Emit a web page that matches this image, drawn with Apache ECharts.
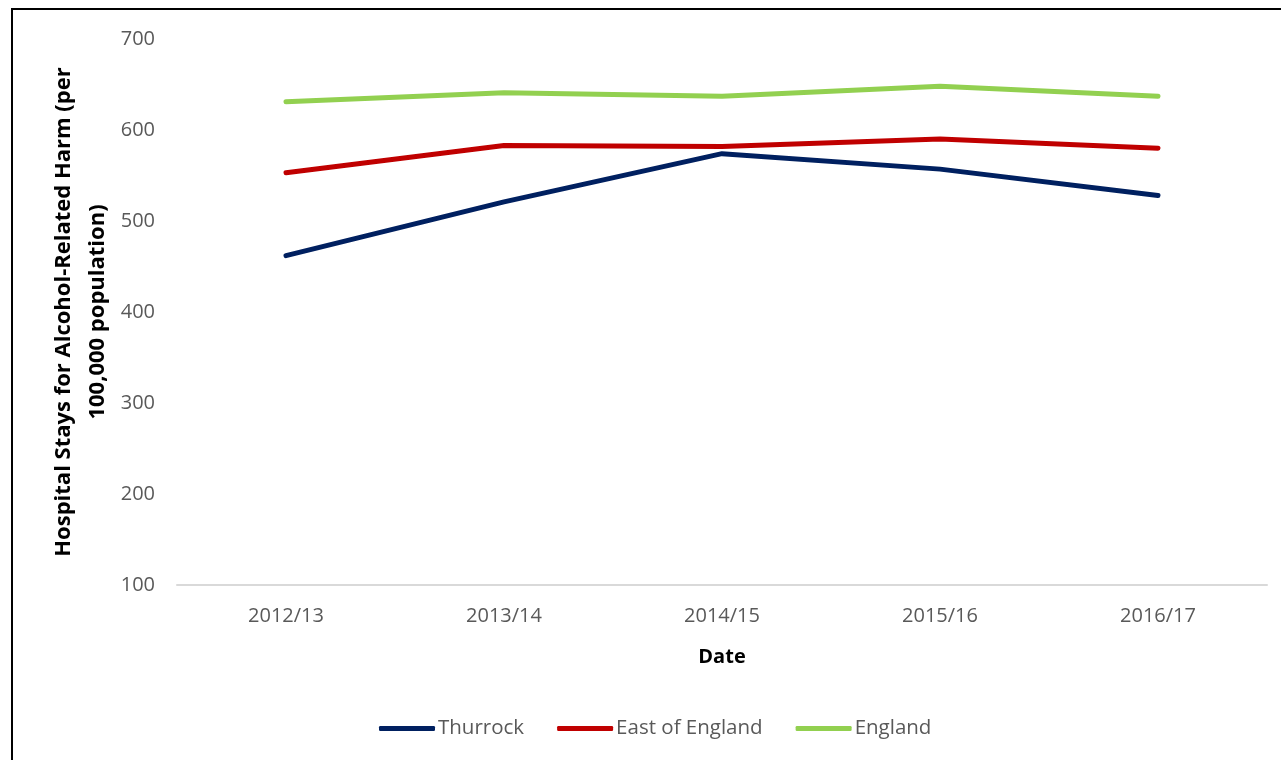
<!DOCTYPE html>
<html>
<head>
<meta charset="utf-8">
<script src="https://cdn.jsdelivr.net/npm/echarts@6/dist/echarts.min.js"></script>
<style>
html,body{margin:0;padding:0;background:#fff;}
#chart{width:1281px;height:760px;}
</style>
</head>
<body>
<div id="chart"></div>
<script>
const categories = ['2012/13', '2013/14', '2014/15', '2015/16', '2016/17'];
const thurrock = [462, 521, 574, 557, 528];
const eastOfEngland = [553, 583, 582, 590, 580];
const england = [631, 641, 637, 648, 637];
const seriesNames = ['Thurrock', 'East of England', 'England'];
const yTicks = [100, 200, 300, 400, 500, 600, 700];

const colors = ['#002060', '#C00000', '#92D050'];
const FONT = '"Open Sans", sans-serif';

const chart = echarts.init(document.getElementById('chart'), null, {renderer: 'canvas'});

function mk(name, data, color) {
  return {
    name: name,
    type: 'line',
    data: data,
    symbol: 'none',
    showSymbol: false,
    lineStyle: {color: color, width: 5, cap: 'round', join: 'round'},
    itemStyle: {color: color},
    emphasis: {disabled: true},
    animation: false
  };
}

chart.setOption({
  animation: false,
  backgroundColor: '#ffffff',
  textStyle: {fontFamily: FONT},
  graphic: [{
    type: 'rect',
    shape: {x: 12, y: 9, width: 1400, height: 900},
    style: {fill: 'none', stroke: '#000000', lineWidth: 2},
    silent: true,
    z: 100
  }],
  grid: {left: 177, right: 14, top: 39, bottom: 175, containLabel: false},
  legend: {
    left: 374,
    top: 713,
    itemWidth: 56,
    itemHeight: 5,
    itemGap: 33,
    icon: 'roundRect',
    textStyle: {color: '#595959', fontSize: 20.5, fontFamily: FONT, padding: [0, 0, 0, -2]},
    data: seriesNames
  },
  xAxis: {
    type: 'category',
    data: categories,
    boundaryGap: true,
    axisLine: {show: true, lineStyle: {color: '#D9D9D9', width: 2}},
    axisTick: {show: false},
    axisLabel: {color: '#595959', fontSize: 20, fontFamily: FONT, margin: 21},
    splitLine: {show: false},
    name: 'Date',
    nameLocation: 'middle',
    nameGap: 62,
    nameMoveOverlap: false,
    nameTextStyle: {color: '#000000', fontSize: 20, fontWeight: 'bold', fontFamily: FONT}
  },
  yAxis: {
    type: 'value',
    min: yTicks[0],
    max: yTicks[yTicks.length - 1],
    interval: 100,
    axisLine: {show: false},
    axisTick: {show: false},
    splitLine: {show: false},
    axisLabel: {color: '#595959', fontSize: 20, fontFamily: FONT, margin: 22},
    name: 'Hospital Stays for Alcohol-Related Harm (per\n100,000 population)',
    nameLocation: 'middle',
    nameGap: 62,
    nameMoveOverlap: false,
    nameRotate: 90,
    nameTextStyle: {color: '#000000', fontSize: 22, fontWeight: 'bold', fontFamily: FONT, lineHeight: 34, align: 'center'}
  },
  series: [
    mk(seriesNames[0], thurrock, colors[0]),
    mk(seriesNames[1], eastOfEngland, colors[1]),
    mk(seriesNames[2], england, colors[2])
  ]
});
</script>
</body>
</html>
